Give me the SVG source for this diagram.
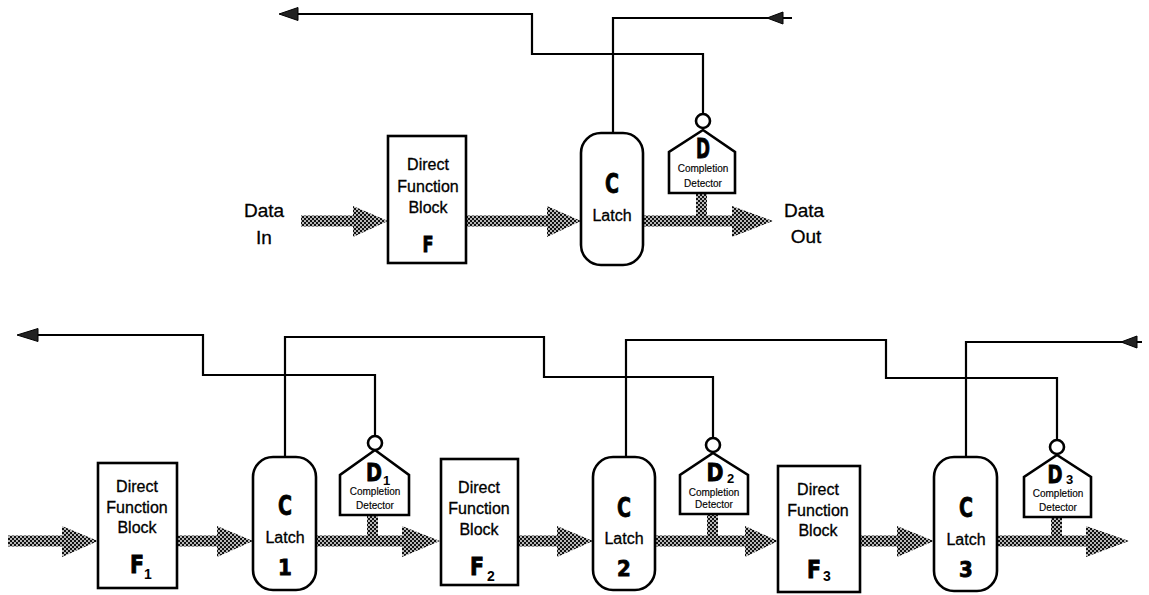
<svg xmlns="http://www.w3.org/2000/svg" width="1149" height="595" viewBox="0 0 1149 595">
  <style>
    .box { fill: #fff; stroke: #000; stroke-width: 2.6; }
    .wire { fill: none; stroke: #000; stroke-width: 2.2; }
    .head { fill: #222; stroke: #000; stroke-width: 1; }
    .bus { fill: url(#dots); stroke: none; }
    .lbl { font-family: "Liberation Sans", Arial, sans-serif; font-size: 16px; fill: #000; stroke: #000; stroke-width: 0.3; text-anchor: middle; }
    .io { font-family: "Liberation Sans", Arial, sans-serif; font-size: 19px; fill: #000; stroke: #000; stroke-width: 0.3; text-anchor: middle; }
    .small { font-family: "Liberation Sans", Arial, sans-serif; font-size: 10px; fill: #000; stroke: #000; stroke-width: 0.15; text-anchor: middle; }
    .big { font-family: "Liberation Sans Narrow", "DejaVu Sans Condensed", "Liberation Sans", sans-serif; font-weight: bold; fill: #000; stroke: #000; stroke-width: 0.8; text-anchor: middle; }
    .sub { font-family: "Liberation Sans", Arial, sans-serif; font-weight: bold; fill: #000; }
  </style>
  <defs>
    <!-- dithered grey fill for the data buses -->
    <pattern id="dots" width="4" height="4" patternUnits="userSpaceOnUse">
      <rect width="4" height="4" fill="#111"/>
      <circle cx="1" cy="1" r="0.95" fill="#fff"/>
      <circle cx="3" cy="3" r="0.95" fill="#fff"/>
    </pattern>
  </defs>

  <!-- ===== single stage ===== -->
  <g id="connectors-top">
    <!-- data buses -->
    <polygon class="bus" points="301,215.5 353,215.5 353,206 388,221 353,237 353,226.5 301,226.5"/>
    <polygon class="bus" points="466,215.5 547,215.5 547,206 581,221 547,237 547,226.5 466,226.5"/>
    <polygon class="bus" points="643,215.5 696,215.5 696,193 707,193 707,215.5 732,215.5 732,206 773,221 732,237 732,226.5 643,226.5"/>
    <!-- handshake wires -->
    <path class="wire" d="M298,14 H532 V54 H703 V114"/>
    <polygon class="head" points="279,14 298,7.5 298,20.5"/>
    <path class="wire" d="M613,133 V18 H792"/>
    <polygon class="head" points="767,18 783,12 783,24"/>
  </g>

  <g id="data-in">
    <text class="io" x="264" y="217">Data</text>
    <text class="io" x="264" y="244">In</text>
  </g>
  <g id="data-out">
    <text class="io" x="804" y="217">Data</text>
    <text class="io" x="806" y="243">Out</text>
  </g>

  <g id="block-F">
    <rect class="box" x="388" y="136" width="78" height="127"/>
    <text class="lbl" x="428" y="170">Direct</text>
    <text class="lbl" x="428" y="192">Function</text>
    <text class="lbl" x="428" y="213">Block</text>
    <text class="big" x="428" y="252" font-size="22" textLength="11" lengthAdjust="spacingAndGlyphs">F</text>
  </g>

  <g id="latch">
    <rect class="box" x="581" y="133" width="62" height="132" rx="20"/>
    <text class="big" x="612" y="193" font-size="27" textLength="14" lengthAdjust="spacingAndGlyphs">C</text>
    <text class="lbl" x="612" y="221">Latch</text>
  </g>

  <g id="detector">
    <polygon class="box" points="669,193 669,152 703,130 735,152 735,193"/>
    <circle class="box" cx="703" cy="121" r="7" stroke-width="2.2"/>
    <text class="big" x="703" y="158" font-size="26" textLength="14" lengthAdjust="spacingAndGlyphs">D</text>
    <text class="small" x="703" y="172">Completion</text>
    <text class="small" x="703" y="187">Detector</text>
  </g>

  <!-- ===== three-stage pipeline ===== -->
  <g id="connectors-pipeline">
    <!-- data buses -->
    <polygon class="bus" points="8,535.5 62,535.5 62,526 98,541 62,557 62,546.5 8,546.5"/>
    <polygon class="bus" points="177,535.5 217,535.5 217,526 253,541 217,557 217,546.5 177,546.5"/>
    <polygon class="bus" points="316,535.5 367,535.5 367,515 378,515 378,535.5 402,535.5 402,526 440,541 402,557 402,546.5 316,546.5"/>
    <polygon class="bus" points="518,535.5 557,535.5 557,526 593,541 557,557 557,546.5 518,546.5"/>
    <polygon class="bus" points="655,535.5 707,535.5 707,514 718,514 718,535.5 745,535.5 745,526 778,541 745,557 745,546.5 655,546.5"/>
    <polygon class="bus" points="860,535.5 897,535.5 897,526 934,541 897,557 897,546.5 860,546.5"/>
    <polygon class="bus" points="997,535.5 1051,535.5 1051,517 1062,517 1062,535.5 1086,535.5 1086,526 1129,541 1086,557 1086,546.5 997,546.5"/>
    <!-- handshake wires -->
    <path class="wire" d="M38,335 H203 V375 H375 V436"/>
    <polygon class="head" points="17,335 38,328.5 38,341.5"/>
    <path class="wire" d="M285,457 V337 H544 V377 H713 V438"/>
    <path class="wire" d="M626,457 V340 H886 V378 H1057 V440"/>
    <path class="wire" d="M966,457 V342 H1142"/>
    <polygon class="head" points="1121,342 1137,336 1137,348"/>
  </g>

  <g id="block-F1">
    <rect class="box" x="98" y="463" width="79" height="125"/>
    <text class="lbl" x="137" y="492">Direct</text>
    <text class="lbl" x="137" y="513">Function</text>
    <text class="lbl" x="137" y="533">Block</text>
    <text class="big" x="137" y="573" font-size="24" textLength="14" lengthAdjust="spacingAndGlyphs">F</text>
    <text class="sub" x="144" y="579" font-size="14">1</text>
  </g>

  <g id="latch-1">
    <rect class="box" x="253" y="457" width="63" height="133" rx="20"/>
    <text class="big" x="285" y="515" font-size="27" textLength="14" lengthAdjust="spacingAndGlyphs">C</text>
    <text class="lbl" x="285" y="543">Latch</text>
    <text class="big" x="285" y="575" font-size="22">1</text>
  </g>

  <g id="detector-1">
    <polygon class="box" points="340,515 340,475 375,450 409,475 409,515"/>
    <circle class="box" cx="375" cy="443" r="7" stroke-width="2.2"/>
    <text class="big" x="374" y="481" font-size="24" textLength="16" lengthAdjust="spacingAndGlyphs">D</text>
    <text class="sub" x="383" y="485" font-size="13">1</text>
    <text class="small" x="375" y="495">Completion</text>
    <text class="small" x="375" y="509">Detector</text>
  </g>

  <g id="block-F2">
    <rect class="box" x="441" y="459" width="77" height="126"/>
    <text class="lbl" x="479" y="493">Direct</text>
    <text class="lbl" x="479" y="514">Function</text>
    <text class="lbl" x="479" y="535">Block</text>
    <text class="big" x="477" y="575" font-size="24" textLength="14" lengthAdjust="spacingAndGlyphs">F</text>
    <text class="sub" x="487" y="581" font-size="14">2</text>
  </g>

  <g id="latch-2">
    <rect class="box" x="593" y="457" width="62" height="133" rx="20"/>
    <text class="big" x="624" y="517" font-size="27" textLength="14" lengthAdjust="spacingAndGlyphs">C</text>
    <text class="lbl" x="624" y="544">Latch</text>
    <text class="big" x="624" y="576" font-size="22">2</text>
  </g>

  <g id="detector-2">
    <polygon class="box" points="680,514 680,475 713,453 748,475 748,514"/>
    <circle class="box" cx="713" cy="445" r="7" stroke-width="2.2"/>
    <text class="big" x="715" y="481" font-size="24" textLength="17" lengthAdjust="spacingAndGlyphs">D</text>
    <text class="sub" x="727" y="483" font-size="13">2</text>
    <text class="small" x="714" y="496">Completion</text>
    <text class="small" x="714" y="508">Detector</text>
  </g>

  <g id="block-F3">
    <rect class="box" x="778" y="466" width="82" height="126"/>
    <text class="lbl" x="818" y="495">Direct</text>
    <text class="lbl" x="818" y="516">Function</text>
    <text class="lbl" x="818" y="536">Block</text>
    <text class="big" x="814" y="578" font-size="24" textLength="14" lengthAdjust="spacingAndGlyphs">F</text>
    <text class="sub" x="823" y="581" font-size="14">3</text>
  </g>

  <g id="latch-3">
    <rect class="box" x="934" y="457" width="63" height="134" rx="20"/>
    <text class="big" x="966" y="517" font-size="27" textLength="14" lengthAdjust="spacingAndGlyphs">C</text>
    <text class="lbl" x="966" y="545">Latch</text>
    <text class="big" x="966" y="577" font-size="22">3</text>
  </g>

  <g id="detector-3">
    <polygon class="box" points="1024,517 1024,477 1057,455 1091,477 1091,517"/>
    <circle class="box" cx="1057" cy="447" r="7" stroke-width="2.2"/>
    <text class="big" x="1055" y="483" font-size="24" textLength="15" lengthAdjust="spacingAndGlyphs">D</text>
    <text class="sub" x="1066" y="484" font-size="13">3</text>
    <text class="small" x="1058" y="497">Completion</text>
    <text class="small" x="1058" y="511">Detector</text>
  </g>
</svg>
